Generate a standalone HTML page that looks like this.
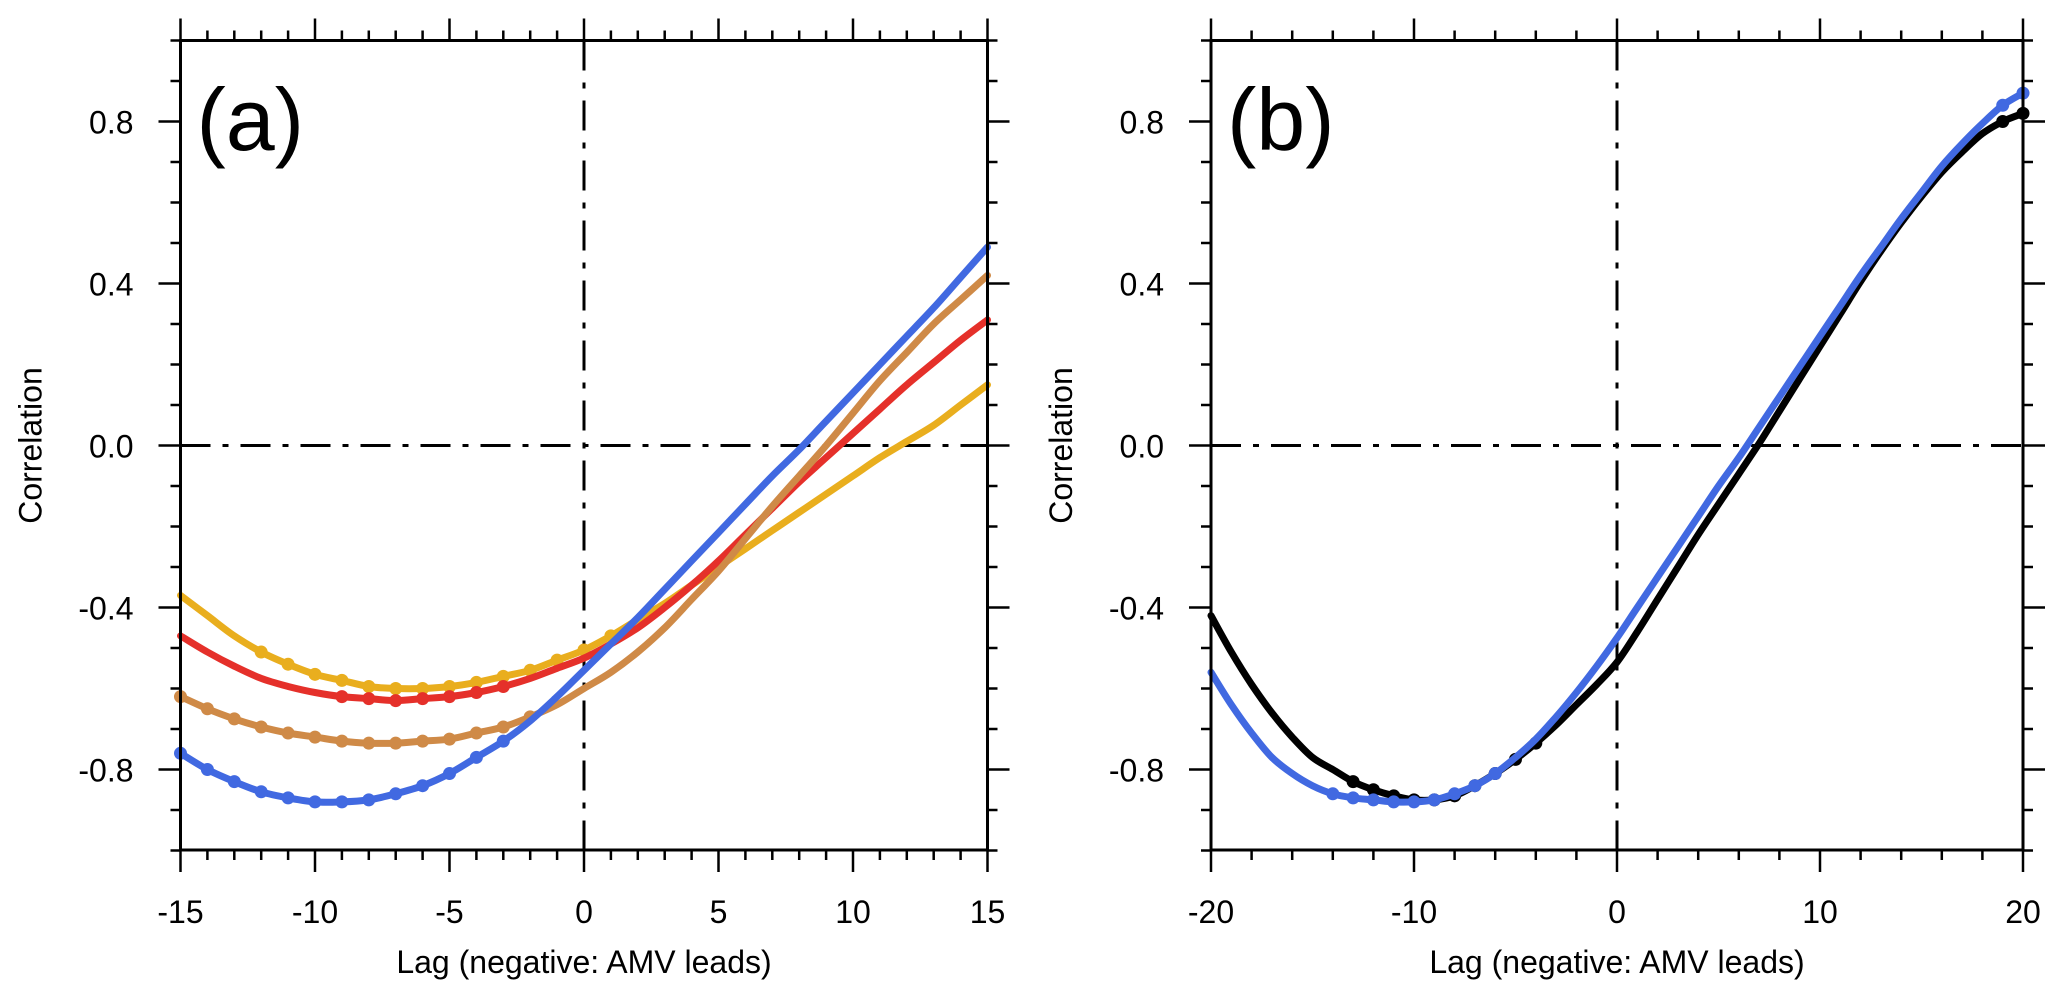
<!DOCTYPE html>
<html><head><meta charset="utf-8"><style>
html,body{margin:0;padding:0;background:#fff;}
svg text{font-family:"Liberation Sans",Arial,sans-serif;fill:#000;}
</style></head><body>
<svg id="chart" width="2067" height="1003" viewBox="0 0 2067 1003" xmlns="http://www.w3.org/2000/svg"></svg>
<script>
const lagsA = [-15,-14,-13,-12,-11,-10,-9,-8,-7,-6,-5,-4,-3,-2,-1,0,1,2,3,4,5,6,7,8,9,10,11,12,13,14,15];
const blueA = [-0.76,-0.80,-0.83,-0.855,-0.87,-0.88,-0.88,-0.875,-0.86,-0.84,-0.81,-0.77,-0.73,-0.68,-0.62,-0.555,-0.49,-0.425,-0.355,-0.285,-0.215,-0.145,-0.075,-0.01,0.06,0.13,0.20,0.27,0.34,0.415,0.49];
const orangeA = [-0.62,-0.65,-0.675,-0.695,-0.71,-0.72,-0.73,-0.735,-0.735,-0.73,-0.725,-0.71,-0.695,-0.67,-0.64,-0.60,-0.56,-0.51,-0.45,-0.38,-0.31,-0.23,-0.15,-0.075,0.0,0.08,0.16,0.23,0.30,0.36,0.42];
const redA = [-0.47,-0.51,-0.545,-0.575,-0.595,-0.61,-0.62,-0.625,-0.63,-0.625,-0.62,-0.61,-0.595,-0.575,-0.55,-0.525,-0.49,-0.45,-0.40,-0.345,-0.285,-0.22,-0.155,-0.09,-0.03,0.03,0.09,0.15,0.205,0.26,0.31];
const yellowA = [-0.37,-0.42,-0.47,-0.51,-0.54,-0.565,-0.58,-0.595,-0.60,-0.60,-0.595,-0.585,-0.57,-0.555,-0.53,-0.505,-0.47,-0.43,-0.39,-0.345,-0.30,-0.255,-0.21,-0.165,-0.12,-0.075,-0.03,0.01,0.05,0.10,0.15];
const lagsB = [-20,-19,-18,-17,-16,-15,-14,-13,-12,-11,-10,-9,-8,-7,-6,-5,-4,-3,-2,-1,0,1,2,3,4,5,6,7,8,9,10,11,12,13,14,15,16,17,18,19,20];
const blackB = [-0.42,-0.51,-0.59,-0.66,-0.72,-0.77,-0.80,-0.83,-0.85,-0.865,-0.875,-0.875,-0.865,-0.84,-0.81,-0.775,-0.735,-0.69,-0.64,-0.59,-0.535,-0.46,-0.38,-0.30,-0.22,-0.145,-0.07,0.005,0.085,0.165,0.245,0.325,0.405,0.48,0.55,0.615,0.675,0.725,0.77,0.80,0.82];
const blueB = [-0.56,-0.64,-0.71,-0.77,-0.81,-0.84,-0.86,-0.87,-0.875,-0.88,-0.88,-0.875,-0.86,-0.84,-0.81,-0.77,-0.725,-0.67,-0.61,-0.545,-0.475,-0.40,-0.325,-0.25,-0.175,-0.10,-0.03,0.045,0.12,0.195,0.27,0.345,0.42,0.49,0.56,0.625,0.69,0.745,0.795,0.84,0.87];
const yTickLabels = ["0.8","0.4","0.0","-0.4","-0.8"];
const yTickValues = [0.8,0.4,0.0,-0.4,-0.8];
const xTicksA = [-15,-10,-5,0,5,10,15];
const xTicksB = [-20,-10,0,10,20];

const NS="http://www.w3.org/2000/svg";
const svg=document.getElementById('chart');
function mk(tag,attrs,parent){const e=document.createElementNS(NS,tag);for(const k in attrs)e.setAttribute(k,attrs[k]);(parent||svg).appendChild(e);return e;}
const Y0=445.5, YS=405;
function yS(v){return Y0-v*YS;}
const plotTop=40.5, plotBot=850;

function smoothPath(pts){
  let d="M"+pts[0][0].toFixed(1)+","+pts[0][1].toFixed(1);
  for(let i=0;i<pts.length-1;i++){
    const p0=pts[Math.max(i-1,0)],p1=pts[i],p2=pts[i+1],p3=pts[Math.min(i+2,pts.length-1)];
    const c1=[p1[0]+(p2[0]-p0[0])/6,p1[1]+(p2[1]-p0[1])/6];
    const c2=[p2[0]-(p3[0]-p1[0])/6,p2[1]-(p3[1]-p1[1])/6];
    d+=" C"+c1[0].toFixed(1)+","+c1[1].toFixed(1)+" "+c2[0].toFixed(1)+","+c2[1].toFixed(1)+" "+p2[0].toFixed(1)+","+p2[1].toFixed(1);
  }
  return d;
}

function panel(name,x0,x1,xmin,xmax,xTicks,minorStep,label,series){
  const g=mk('g',{});
  
  
  const xS=v=>x0+(v-xmin)/(xmax-xmin)*(x1-x0);
  const h=mk('line',{x1:x0,x2:x1,y1:yS(0),y2:yS(0),stroke:'#000','stroke-width':3,'stroke-dasharray':'30,12,6,12'},g);
  
  
  const v=mk('line',{x1:xS(0),x2:xS(0),y1:plotTop,y2:plotBot,stroke:'#000','stroke-width':3,'stroke-dasharray':'30,12,6,12'},g);
  
  
  series.forEach(s=>{
    const pts=s.lags.map((l,i)=>[xS(l),yS(s.vals[i])]);
    const p=mk('path',{d:smoothPath(pts),fill:'none',stroke:s.color,'stroke-width':7,'stroke-linecap':'round'},g);
    
    
    s.lags.forEach((l,i)=>{
      if(s.marks.indexOf(l)>=0){
        const c=mk('circle',{cx:xS(l),cy:yS(s.vals[i]),r:6.5,fill:s.color},g);
        
        
      }
    });
  });
  const f=mk('rect',{x:x0,y:plotTop,width:x1-x0,height:plotBot-plotTop,fill:'none',stroke:'#000','stroke-width':3},g);
  
  
  for(let k=-10;k<=10;k++){
    const val=k/10, yy=yS(val), major=(k%4===0);
    const L=major?22:10;
    mk('line',{x1:x0,x2:x0-L,y1:yy,y2:yy,stroke:'#000','stroke-width':2.5},g);
    mk('line',{x1:x1,x2:x1+L,y1:yy,y2:yy,stroke:'#000','stroke-width':2.5},g);
  }
  yTickValues.forEach((tv,i)=>{
    const t=mk('text',{x:x0-47,y:yS(tv)+12,'text-anchor':'end','font-size':32},g);
    t.textContent=yTickLabels[i];
    
    
  });
  for(let xv=xmin;xv<=xmax+1e-9;xv+=minorStep){
    const major=xTicks.indexOf(xv)>=0, L=major?22:10, xx=xS(xv);
    mk('line',{x1:xx,x2:xx,y1:plotBot,y2:plotBot+L,stroke:'#000','stroke-width':2.5},g);
    mk('line',{x1:xx,x2:xx,y1:plotTop,y2:plotTop-L,stroke:'#000','stroke-width':2.5},g);
  }
  xTicks.forEach(xv=>{
    const t=mk('text',{x:xS(xv),y:923,'text-anchor':'middle','font-size':32},g);
    t.textContent=String(xv);
    
    
  });
  const xt=mk('text',{x:(x0+x1)/2,y:973,'text-anchor':'middle','font-size':32},g);
  xt.textContent='Lag (negative: AMV leads)';
  
  
  const yt=mk('text',{x:0,y:0,'text-anchor':'middle','font-size':32,transform:'translate('+(x0-139)+','+Y0+') rotate(-90)'},g);
  yt.textContent='Correlation';
  
  
  const pl=mk('text',{x:x0+16,y:150,'font-size':88},g);
  pl.textContent=label;
  
  
}

panel('panel-a',180.5,987.5,-15,15,xTicksA,1,'(a)',[
  {name:'yellow-series',lags:lagsA,vals:yellowA,color:'#e9ae1e',marks:[-12,-11,-10,-9,-8,-7,-6,-5,-4,-3,-2,-1,0,1]},
  {name:'red-series',lags:lagsA,vals:redA,color:'#e5302a',marks:[-9,-8,-7,-6,-5,-4,-3]},
  {name:'orange-series',lags:lagsA,vals:orangeA,color:'#cf8a47',marks:[-15,-14,-13,-12,-11,-10,-9,-8,-7,-6,-5,-4,-3,-2]},
  {name:'blue-series',lags:lagsA,vals:blueA,color:'#4169e1',marks:[-15,-14,-13,-12,-11,-10,-9,-8,-7,-6,-5,-4,-3]}
]);
panel('panel-b',1211,2023,-20,20,xTicksB,2,'(b)',[
  {name:'black-series',lags:lagsB,vals:blackB,color:'#000000',marks:[-13,-12,-11,-10,-9,-8,-7,-6,-5,-4,19,20]},
  {name:'blue-series',lags:lagsB,vals:blueB,color:'#4169e1',marks:[-14,-13,-12,-11,-10,-9,-8,-7,-6,19,20]}
]);
</script>
</body></html>
